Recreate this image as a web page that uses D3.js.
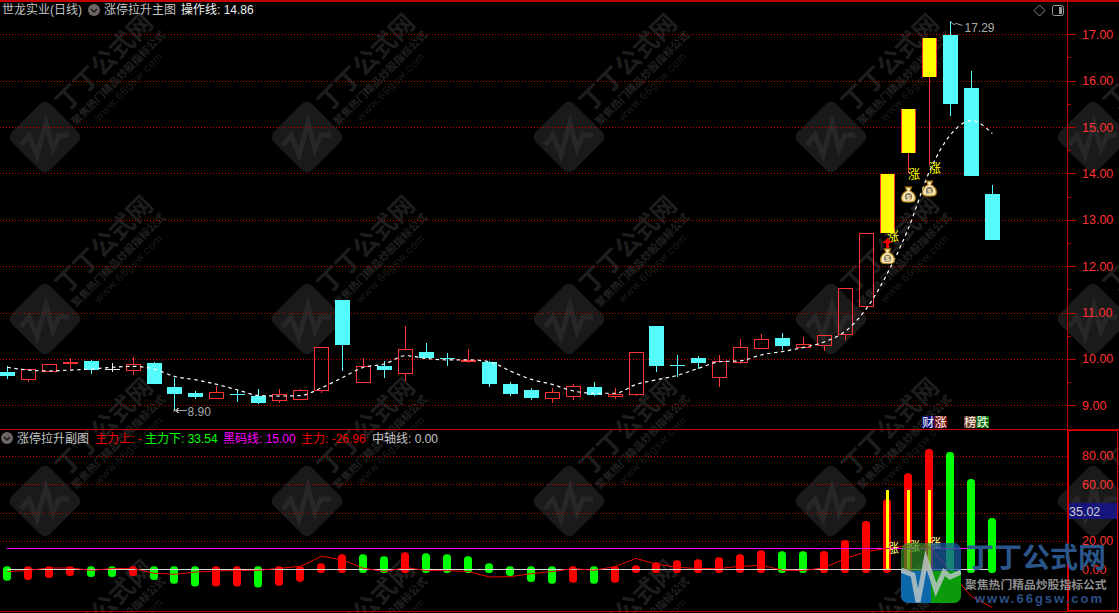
<!DOCTYPE html>
<html>
<head>
<meta charset="utf-8">
<script src="https://cdn.jsdelivr.net/npm/d3@7/dist/d3.min.js"></script>
<style>
html, body { margin: 0; padding: 0; background: #000; overflow: hidden; }
svg { display: block; }
text { font-family: "Liberation Sans", "Noto Sans CJK SC", sans-serif; }
</style>
</head>
<body>
<svg id="chart" width="1119" height="613"></svg>
<script>
// daily candles
var candleOpen = [9.72,9.57,9.75,9.91,9.96,9.79,9.77,9.91,9.39,9.26,9.16,9.25,9.20,9.12,9.14,9.34,11.27,9.51,9.85,9.70,10.15,10.03,9.96,9.93,9.46,9.33,9.16,9.21,9.39,9.19,9.25,10.71,9.87,10.01,9.62,9.94,10.24,10.45,10.26,10.31,10.53,11.15,12.72,14.45,16.08,16.98,15.84,13.56];
var candleClose = [9.63,9.78,9.88,9.93,9.77,9.79,9.90,9.46,9.24,9.18,9.28,9.23,9.05,9.24,9.32,10.25,10.31,9.84,9.76,10.21,10.02,10.02,9.98,9.46,9.24,9.16,9.28,9.41,9.22,9.24,10.16,9.85,9.85,9.91,9.96,10.25,10.44,10.28,10.32,10.51,11.54,12.71,13.99,15.39,16.92,15.50,13.95,12.56];
var candleHigh = [9.85,9.78,9.88,10.01,9.98,9.91,10.04,9.93,9.59,9.31,9.42,9.33,9.35,9.35,9.35,10.25,11.27,10.01,9.96,10.71,10.34,10.13,10.21,9.96,9.50,9.37,9.37,9.46,9.50,9.37,10.16,10.71,10.08,10.06,10.08,10.42,10.54,10.56,10.47,10.51,11.54,12.71,13.99,15.39,16.92,17.29,16.21,13.75];
var candleLow = [9.57,9.51,9.75,9.79,9.68,9.72,9.65,9.46,8.90,9.14,9.14,9.08,9.03,9.05,9.12,9.27,9.73,9.51,9.59,9.53,10.02,9.85,9.92,9.39,9.20,9.11,9.05,9.11,9.20,9.14,9.19,9.72,9.61,9.79,9.40,9.88,10.24,10.19,10.26,10.17,10.41,11.15,12.72,14.00,14.18,15.24,13.95,12.56];
var opLine = [9.82,9.76,9.74,9.76,9.78,9.82,9.84,9.78,9.62,9.55,9.45,9.33,9.21,9.20,9.21,9.38,9.60,9.82,9.89,10.07,10.01,9.98,9.98,9.94,9.74,9.56,9.45,9.31,9.26,9.26,9.45,9.55,9.65,9.80,9.94,9.96,10.09,10.16,10.25,10.37,10.60,11.09,11.85,12.82,14.04,14.83,15.14,14.86];
var yellowDays = [42,43,44];

// lower panel
var mainTop = [2.1,2.1,2.1,2.1,2.1,2.1,2.1,2.1,2.1,2.1,2.1,2.1,2.1,2.1,2.1,4.2,10.6,10.6,9.2,12,11.3,10.6,9.2,4.2,2.1,2.1,2.1,2.1,2.1,2.1,2.8,4.9,6.3,7,8.5,10.6,13.4,12.7,12.7,12.9,20.7,34,49.3,67.6,84.7,82.6,63.6,36.2];
var mainBottom = [-8,-7.5,-6.1,-4.7,-5.4,-5.4,-4.7,-7.5,-10.1,-12.2,-12.2,-12.2,-12.9,-11.5,-8.7,-2.6,-2.6,-2.6,-2.6,-2.6,-2.6,-2.6,-2.6,-2.6,-4.7,-8.9,-10.1,-9.4,-10.1,-9.4,-2.6,-2.6,-2.6,-2.6,-2.6,-2.6,-2.6,-2.6,-2.6,-2.6,-2.6,-2.6,-2.6,-2.6,-2.6,-2.6,-2.6,-2.6];
var mainColor = "grrrggrgggrrgrrrrggrgggggggrgrrrrrrrrggrrrrrrggg".split("");
var zhuliLine = [-1.6,-0.7,0.9,0.9,-0.7,0.5,0.7,-2.8,-3.5,-1.9,-1.2,-0.9,-0.7,0.7,2.1,9.2,6.6,0.7,-1.6,1.2,-0.9,-0.9,-1.6,-5.4,-5.2,-3.1,-1.6,0.5,-0.7,1.9,7.7,3.5,1.4,0.5,0.7,2.1,2.8,-0.7,-0.9,1.2,7.7,12.4,14.8,16.7,16,-1.6,-19.2,-26.96];
var blackCode = 15;
var yellowBarTop = 55.9;

// signals on the candles: [day, price]
var zhangMain = [[42,12.65],[43,13.99],[44,14.12]];
var moneyBags = [[42,12.2],[43,13.53],[44,13.66]];
var arrowUp = [[42,12.5]];
var zhangSub = [[42,15],[43,16.6],[44,18.4]];

var priceTicks = [9,10,11,12,13,14,15,16,17];
var priceMinor = [9.5,10.5,11.5,12.5,13.5,14.5,15.5,16.5];
var subTicks = [0,20,60,80];
var subGrid = [20,40,60,80];
var days = d3.range(candleOpen.length);

var RED = "#ff3232", CYAN = "#54fcfc", GRID = "#c80000", AXIS = "#c00000";
var svg = d3.select("#chart");
svg.append("rect").attr("width", 1119).attr("height", 613).attr("fill", "#000");

var x = d3.scalePoint().domain(days).range([7.3, 992.3]);
var yMain = d3.scaleLinear().domain([9, 17]).range([405.3, 34.3]);
var ySub = d3.scaleLinear().domain([0, 80]).range([569.3, 455.7]);

function px(i) { return Math.floor(x(i)) + 0.5; }
function snap(v) { return Math.round(v) + 0.5; }

// ---- repeated background stamp
var stampCols = [45, 307, 569, 831, 1093];
var stampRows = [137, 319, 501, 683];
var stamps = svg.append("g");
stampRows.forEach(function(r) {
    stampCols.forEach(function(c) {
        var s = stamps.append("g").attr("transform", "translate(" + c + "," + r + ")");
        s.append("rect").attr("x", -27).attr("y", -27).attr("width", 54).attr("height", 54)
            .attr("rx", 7).attr("transform", "rotate(45)").attr("fill", "#1a1a1a");
        s.append("path").attr("d", "M-24,8 L-16,-2 L-8,18 L1,-14 L8,12 L14,-2 L24,-2")
            .attr("fill", "none").attr("stroke", "#272727").attr("stroke-width", 5);
        var t = s.append("g").attr("transform", "rotate(-45)");
        t.append("text").attr("x", 32).attr("y", -2).attr("font-size", 25).attr("font-weight", 700)
            .attr("fill", "#1d1d1d").text("丁丁公式网");
        t.append("text").attr("x", 30).attr("y", 14).attr("font-size", 10.6).attr("font-weight", 700)
            .attr("fill", "#212121").text("聚焦热门精品炒股指标公式");
        t.append("text").attr("x", 49).attr("y", 27).attr("font-size", 11).attr("letter-spacing", 0.8)
            .attr("fill", "#1c1c1c").text("www.66gsw.com");
    });
});

// ---- grid
var grid = svg.append("g").attr("shape-rendering", "crispEdges");
priceTicks.concat([]).forEach(function(p) {
    grid.append("line").attr("x1", 0).attr("x2", 1067).attr("y1", snap(yMain(p))).attr("y2", snap(yMain(p)))
        .attr("stroke", GRID).attr("stroke-dasharray", "1 2");
});
subGrid.forEach(function(v) {
    grid.append("line").attr("x1", 0).attr("x2", 1067).attr("y1", snap(ySub(v))).attr("y2", snap(ySub(v)))
        .attr("stroke", GRID).attr("stroke-dasharray", "1 2");
});

// ---- candles
var candles = svg.append("g").attr("shape-rendering", "crispEdges");
var candle = candles.selectAll("g").data(days).enter().append("g");

candle.each(function(i) {
    var g = d3.select(this);
    var top = Math.round(yMain(Math.max(candleOpen[i], candleClose[i])));
    var bot = Math.round(yMain(Math.min(candleOpen[i], candleClose[i])));
    var hi = Math.round(yMain(candleHigh[i]));
    var lo = Math.round(yMain(candleLow[i]));
    var cx = px(i), left = Math.floor(x(i)) - 7;
    var up = candleClose[i] > candleOpen[i];
    var flat = candleClose[i] == candleOpen[i];
    var isYellow = yellowDays.indexOf(i) >= 0;
    var col = flat ? "#e8e8e8" : (up ? RED : CYAN);

    if (hi < top) g.append("line").attr("x1", cx).attr("x2", cx).attr("y1", hi).attr("y2", top).attr("stroke", col);
    if (lo > bot) g.append("line").attr("x1", cx).attr("x2", cx).attr("y1", bot).attr("y2", lo).attr("stroke", col);

    if (isYellow) {
        g.append("rect").attr("x", left).attr("y", top).attr("width", 15).attr("height", bot - top).attr("fill", RED);
        g.append("rect").attr("x", left + 1).attr("y", top).attr("width", 13).attr("height", bot - top).attr("fill", "#ffff00");
    } else if (flat) {
        g.append("line").attr("x1", left).attr("x2", left + 15).attr("y1", top + 0.5).attr("y2", top + 0.5).attr("stroke", col);
    } else if (up) {
        g.append("rect").attr("x", left + 0.5).attr("y", top + 0.5).attr("width", 14).attr("height", Math.max(bot - top, 1))
            .attr("fill", "none").attr("stroke", RED);
    } else {
        g.append("rect").attr("x", left).attr("y", top).attr("width", 15).attr("height", Math.max(bot - top, 1)).attr("fill", CYAN);
    }
});

// ---- operating line
svg.append("path")
    .attr("d", d3.line().x(function(i) { return x(i); }).y(function(i) { return yMain(opLine[i]); }).curve(d3.curveMonotoneX)(days))
    .attr("fill", "none").attr("stroke", "#fff").attr("stroke-width", 1.2).attr("stroke-dasharray", "3.5 3.5");

// ---- high / low notes
function note(i, value, dir) {
    var g = svg.append("g");
    var yy = snap(yMain(value));
    var x0 = px(i);
    if (dir == "low") {
        g.append("path").attr("d", "M" + x0 + "," + yy + " H" + (x0 + 12) + " M" + (x0 + 5) + "," + (yy - 3) + " L" + (x0 + 1) + "," + yy + " L" + (x0 + 5) + "," + (yy + 3))
            .attr("stroke", "#a8a8a8").attr("fill", "none").attr("shape-rendering", "crispEdges");
        g.append("rect").attr("x", x0 - 1).attr("y", yy - 1).attr("width", 2).attr("height", 2).attr("fill", "#a8a8a8");
        g.append("text").attr("x", x0 + 13).attr("y", yy + 5).attr("font-size", 12).attr("fill", "#a8a8a8").text(value.toFixed(2));
    } else {
        g.append("path").attr("d", "M" + x0 + "," + yy + " l3,3 l3,-1 l6,2")
            .attr("stroke", "#a8a8a8").attr("fill", "none");
        g.append("text").attr("x", x0 + 14).attr("y", yy + 10).attr("font-size", 12).attr("fill", "#a8a8a8").text(value.toFixed(2));
    }
}
note(8, candleLow[8], "low");
note(45, candleHigh[45], "high");

// ---- signals on candles
var sig = svg.append("g");
sig.selectAll(".zhang").data(zhangMain).enter().append("text").attr("class", "zhang")
    .attr("x", function(d) { return x(d[0]) + 5.5; })
    .attr("y", function(d) { return yMain(d[1]) + 5; })
    .attr("text-anchor", "middle").attr("font-size", 12).attr("fill", "#ffff00").text("涨");

var arrows = sig.selectAll(".arrow").data(arrowUp).enter().append("path").attr("class", "arrow")
    .attr("transform", function(d) { return "translate(" + x(d[0]) + "," + yMain(d[1]) + ")"; })
    .attr("d", "M0,-5 L5,0 L1.5,0 L1.5,5 L-1.5,5 L-1.5,0 L-5,0 Z").attr("fill", "#f00000");

var bag = sig.selectAll(".bag").data(moneyBags).enter().append("g").attr("class", "bag")
    .attr("transform", function(d) { return "translate(" + x(d[0]) + "," + yMain(d[1]) + ")"; });
bag.append("path").attr("d", "M-3,-8 L3,-8 L1.5,-4.5 C6.5,-2.5 7.5,2 6.5,5 C5.5,7.5 -5.5,7.5 -6.5,5 C-7.5,2 -6.5,-2.5 -1.5,-4.5 Z")
    .attr("fill", "#f4e6b8").attr("stroke", "#b07c10").attr("stroke-width", 1.2);
bag.append("circle").attr("cy", 1.5).attr("r", 3.6).attr("fill", "#8a7a5a");
bag.append("text").attr("y", 4.5).attr("text-anchor", "middle").attr("font-size", 8).attr("font-weight", 700).attr("fill", "#f4e6b8").text("$");

// corner tags
function tag(xPos, label, bg) {
    svg.append("rect").attr("x", xPos).attr("y", 416).attr("width", 12.5).attr("height", 12).attr("fill", bg);
    svg.append("text").attr("x", xPos + 6.2).attr("y", 426.5).attr("text-anchor", "middle").attr("font-size", 12).attr("fill", "#fff").text(label);
}
tag(922, "财", "#10107a"); tag(934.5, "涨", "#7a1010");
tag(964, "榜", "#6a3a20"); tag(976.5, "跌", "#0a720a");

// ---- lower panel bars
var bars = svg.append("g");
bars.selectAll("rect").data(days).enter().append("rect")
    .attr("x", function(i) { return Math.floor(x(i)) - 4; })
    .attr("y", function(i) { return ySub(mainTop[i]); })
    .attr("width", 8)
    .attr("height", function(i) { return ySub(mainBottom[i]) - ySub(mainTop[i]); })
    .attr("rx", 3.5)
    .attr("fill", function(i) { return mainColor[i] == "g" ? "#00ff00" : "#ff0000"; });

bars.selectAll(".ybar").data(yellowDays).enter().append("rect").attr("class", "ybar")
    .attr("x", function(i) { return Math.floor(x(i)) - 1; })
    .attr("y", ySub(yellowBarTop))
    .attr("width", 3)
    .attr("height", ySub(0) - ySub(yellowBarTop))
    .attr("fill", "#ffff00").attr("shape-rendering", "crispEdges");

var lines = svg.append("g").attr("shape-rendering", "crispEdges");
lines.append("line").attr("x1", x(0)).attr("x2", x(days.length - 1)).attr("y1", snap(ySub(blackCode)) ).attr("y2", snap(ySub(blackCode))).attr("stroke", "#ff00ff");
lines.append("line").attr("x1", x(0)).attr("x2", x(days.length - 1) - 4).attr("y1", snap(ySub(0)) ).attr("y2", snap(ySub(0))).attr("stroke", "#d8d8d8");

svg.append("path")
    .attr("d", d3.line().x(function(i) { return x(i); }).y(function(i) { return ySub(zhuliLine[i]); })(days))
    .attr("fill", "none").attr("stroke", "#f00000").attr("stroke-width", 1);

svg.selectAll(".zhangsub").data(zhangSub).enter().append("text").attr("class", "zhangsub")
    .attr("x", function(d) { return x(d[0]) + 5.5; })
    .attr("y", function(d) { return ySub(d[1]) + 5; })
    .attr("text-anchor", "middle").attr("font-size", 12).attr("fill", "#ffff80").text("涨");

// ---- axes and frame
var frame = svg.append("g").attr("shape-rendering", "crispEdges");
frame.append("line").attr("x1", 0).attr("x2", 1119).attr("y1", 0.5).attr("y2", 0.5).attr("stroke", AXIS).attr("stroke-width", 2);
frame.append("line").attr("x1", 0).attr("x2", 1119).attr("y1", 429.5).attr("y2", 429.5).attr("stroke", AXIS);
frame.append("line").attr("x1", 0).attr("x2", 1119).attr("y1", 611.5).attr("y2", 611.5).attr("stroke", AXIS);
frame.append("line").attr("x1", 1067.5).attr("x2", 1067.5).attr("y1", 0).attr("y2", 612).attr("stroke", AXIS);
frame.append("rect").attr("x", 1068.5).attr("y", 430.5).attr("width", 49).attr("height", 180).attr("fill", "none").attr("stroke", "#e00000");

var axisMain = svg.append("g").attr("transform", "translate(1067,0)")
    .call(d3.axisRight(yMain).tickValues(priceTicks).tickSize(9).tickPadding(6).tickFormat(d3.format(".2f")));
var axisMinor = svg.append("g").attr("transform", "translate(1067,0)")
    .call(d3.axisRight(yMain).tickValues(priceMinor).tickSize(4).tickFormat(""));
var axisSub = svg.append("g").attr("transform", "translate(1067,0)")
    .call(d3.axisRight(ySub).tickValues(subTicks).tickSize(0).tickPadding(15).tickFormat(d3.format(".2f")));

[axisMain, axisMinor, axisSub].forEach(function(a) {
    a.select(".domain").remove();
    a.selectAll("line").attr("stroke", AXIS).attr("shape-rendering", "crispEdges");
    a.selectAll("text").attr("fill", RED).attr("font-size", 12.5).style("font-family", '"Liberation Sans", sans-serif');
});

// current value box in lower panel
var currentValue = 35.02;
svg.append("rect").attr("x", 1069).attr("y", 503).attr("width", 48).attr("height", 16).attr("fill", "#15157c");
svg.append("text").attr("x", 1069).attr("y", 515.5).attr("font-size", 12.5).attr("fill", "#cfcfcf").text(currentValue.toFixed(2));

// ---- header lines
function dropIcon(cx, cy) {
    svg.append("circle").attr("cx", cx).attr("cy", cy).attr("r", 6).attr("fill", "#6e6664");
    svg.append("path").attr("d", "M" + (cx - 3) + "," + (cy - 1) + " L" + cx + "," + (cy + 2) + " L" + (cx + 3) + "," + (cy - 1))
        .attr("fill", "none").attr("stroke", "#151515").attr("stroke-width", 1.4);
}
function label(xPos, yPos, str, col) {
    svg.append("text").attr("x", xPos).attr("y", yPos).attr("font-size", 12).attr("fill", col).text(str);
}
label(2, 14, "世龙实业(日线)", "#c4c4c4");
dropIcon(94, 10);
label(104, 14, "涨停拉升主图", "#c4c4c4");
label(181, 14, "操作线: 14.86", "#f0f0f0");

dropIcon(7, 438);
label(17, 443, "涨停拉升副图", "#c4c4c4");
label(95, 443, "主力上: -", "#f00000");
label(145, 443, "主力下: 33.54", "#00ff00");
label(223, 443, "黑码线: 15.00", "#ff00ff");
label(301, 443, "主力: -26.96", "#f00000");
label(372, 443, "中轴线: 0.00", "#c4c4c4");

// top right buttons
svg.append("path").attr("d", "M1039.5,5 L1045,10.5 L1039.5,16 L1034,10.5 Z").attr("fill", "none").attr("stroke", "#8a8a8a");
svg.append("rect").attr("x", 1052.5).attr("y", 5.5).attr("width", 11).attr("height", 10).attr("rx", 2).attr("fill", "none").attr("stroke", "#9a9a9a");
svg.append("rect").attr("x", 1059).attr("y", 7).attr("width", 3).attr("height", 7).attr("fill", "#9a9a9a");

// ---- site logo over the corner
var defs = svg.append("defs");
defs.append("clipPath").attr("id", "logoClip").append("rect")
    .attr("x", 901).attr("y", 543).attr("width", 60).attr("height", 60).attr("rx", 7);
var logo = svg.append("g").attr("clip-path", "url(#logoClip)");
logo.append("rect").attr("x", 901).attr("y", 543).attr("width", 30).attr("height", 30).attr("fill", "#2f8a2a").attr("opacity", 0.7);
logo.append("rect").attr("x", 931).attr("y", 543).attr("width", 30).attr("height", 30).attr("fill", "#1a5a9c").attr("opacity", 0.75);
logo.append("rect").attr("x", 901).attr("y", 571).attr("width", 30).attr("height", 32).attr("fill", "#0c68a8");
logo.append("rect").attr("x", 931).attr("y", 571).attr("width", 30).attr("height", 32).attr("fill", "#0a9a0a");
logo.append("path").attr("d", "M901,570 L913,575 L918,602 L926,560 L936,590 L944,572 L950,577 L961,572")
    .attr("fill", "none").attr("stroke", "#b8c4c4").attr("stroke-width", 5).attr("opacity", 0.85);

svg.append("text").attr("x", 966).attr("y", 568).attr("font-size", 28).attr("font-weight", 700).attr("fill", "#2c5a90").attr("opacity", 0.95).text("丁丁公式网");
svg.append("text").attr("x", 965).attr("y", 589).attr("font-size", 11.8).attr("font-weight", 700).attr("fill", "#8e8e8e").text("聚焦热门精品炒股指标公式");
svg.append("text").attr("x", 975).attr("y", 603).attr("font-size", 13).attr("font-weight", 700).attr("letter-spacing", 2).attr("fill", "#2c4f86").text("www.66gsw.com");
</script>
</body>
</html>
